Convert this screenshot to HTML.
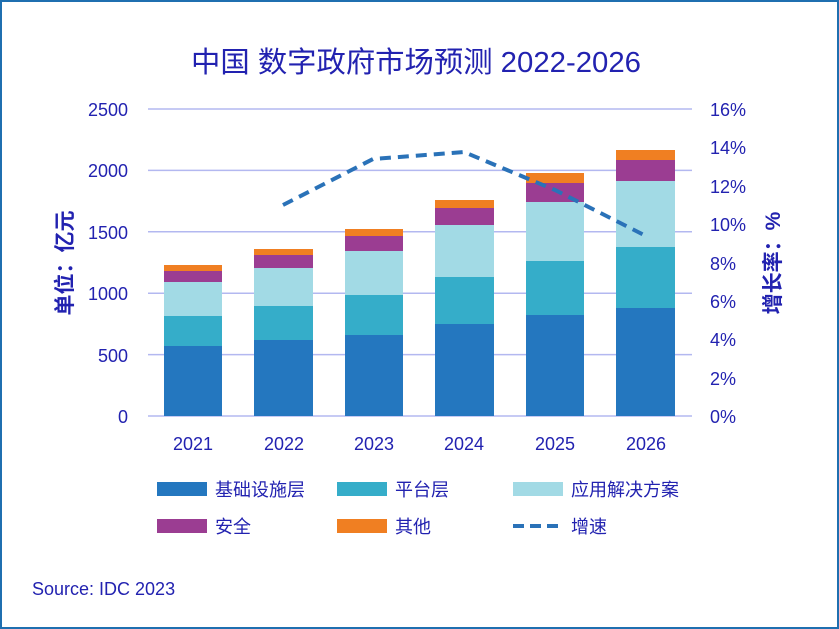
<!DOCTYPE html>
<html><head><meta charset="utf-8"><style>
html,body{margin:0;padding:0;background:#fff}
svg{display:block}
text{font-family:"Liberation Sans","Noto Sans CJK SC",sans-serif;fill:#2222b0}
</style></head><body>
<svg width="839" height="629" viewBox="0 0 839 629">
<rect x="1" y="1" width="837" height="627" fill="#fff" stroke="#1f6fb0" stroke-width="2"/>
<text x="416" y="72" font-size="29" text-anchor="middle" textLength="450" lengthAdjust="spacingAndGlyphs">中国 数字政府市场预测 2022-2026</text>
<g stroke="#b3b8f0" stroke-width="1.5">
<line x1="148" y1="109" x2="692" y2="109"/><line x1="148" y1="170.4" x2="692" y2="170.4"/>
<line x1="148" y1="231.8" x2="692" y2="231.8"/><line x1="148" y1="293.2" x2="692" y2="293.2"/>
<line x1="148" y1="354.6" x2="692" y2="354.6"/><line x1="148" y1="416" x2="692" y2="416"/>
</g>
<g font-size="18" text-anchor="end">
<text x="128" y="116">2500</text><text x="128" y="177">2000</text><text x="128" y="239">1500</text>
<text x="128" y="300">1000</text><text x="128" y="362">500</text><text x="128" y="423">0</text>
</g>
<g font-size="18" text-anchor="start">
<text x="710" y="116">16%</text><text x="710" y="154">14%</text><text x="710" y="193">12%</text>
<text x="710" y="231">10%</text><text x="710" y="270">8%</text><text x="710" y="308">6%</text>
<text x="710" y="346">4%</text><text x="710" y="385">2%</text><text x="710" y="423">0%</text>
</g>
<text transform="translate(72,263) rotate(-90)" font-size="21" font-weight="bold" text-anchor="middle">单位：亿元</text>
<text transform="translate(780,263) rotate(-90)" font-size="21" font-weight="bold" text-anchor="middle">增长率：%</text>
<g>
<g transform="translate(164,0)"><rect y="346" width="58" height="70" fill="#2477bf"/><rect y="316" width="58" height="30" fill="#35adc9"/><rect y="282" width="58" height="34" fill="#a2dae5"/><rect y="271" width="58" height="11" fill="#9b3d92"/><rect y="265" width="58" height="6" fill="#f07f22"/></g>
<g transform="translate(254,0)"><rect y="340" width="59" height="76" fill="#2477bf"/><rect y="306" width="59" height="34" fill="#35adc9"/><rect y="268" width="59" height="38" fill="#a2dae5"/><rect y="255" width="59" height="13" fill="#9b3d92"/><rect y="249" width="59" height="6" fill="#f07f22"/></g>
<g transform="translate(345,0)"><rect y="335" width="58" height="81" fill="#2477bf"/><rect y="295" width="58" height="40" fill="#35adc9"/><rect y="251" width="58" height="44" fill="#a2dae5"/><rect y="236" width="58" height="15" fill="#9b3d92"/><rect y="229" width="58" height="7" fill="#f07f22"/></g>
<g transform="translate(435,0)"><rect y="324" width="59" height="92" fill="#2477bf"/><rect y="277" width="59" height="47" fill="#35adc9"/><rect y="225" width="59" height="52" fill="#a2dae5"/><rect y="208" width="59" height="17" fill="#9b3d92"/><rect y="200" width="59" height="8" fill="#f07f22"/></g>
<g transform="translate(526,0)"><rect y="315" width="58" height="101" fill="#2477bf"/><rect y="261" width="58" height="54" fill="#35adc9"/><rect y="202" width="58" height="59" fill="#a2dae5"/><rect y="183" width="58" height="19" fill="#9b3d92"/><rect y="173" width="58" height="10" fill="#f07f22"/></g>
<g transform="translate(616,0)"><rect y="308" width="59" height="108" fill="#2477bf"/><rect y="247" width="59" height="61" fill="#35adc9"/><rect y="181" width="59" height="66" fill="#a2dae5"/><rect y="160" width="59" height="21" fill="#9b3d92"/><rect y="150" width="59" height="10" fill="#f07f22"/></g>
</g>
<polyline points="283,205 373,159 464,152 555,190 646,236" fill="none" stroke="#2a72b8" stroke-width="4" stroke-dasharray="11,7"/>
<g font-size="18" text-anchor="middle">
<text x="193" y="450">2021</text><text x="284" y="450">2022</text><text x="374" y="450">2023</text>
<text x="464" y="450">2024</text><text x="555" y="450">2025</text><text x="646" y="450">2026</text>
</g>
<g font-size="18">
<rect x="157" y="482" width="50" height="14" fill="#2477bf"/><text x="215" y="496">基础设施层</text>
<rect x="337" y="482" width="50" height="14" fill="#35adc9"/><text x="395" y="496">平台层</text>
<rect x="513" y="482" width="50" height="14" fill="#a2dae5"/><text x="571" y="496">应用解决方案</text>
<rect x="157" y="519" width="50" height="14" fill="#9b3d92"/><text x="215" y="533">安全</text>
<rect x="337" y="519" width="50" height="14" fill="#f07f22"/><text x="395" y="533">其他</text>
<line x1="513" y1="526" x2="563" y2="526" stroke="#2a72b8" stroke-width="4" stroke-dasharray="11,6"/><text x="571" y="533">增速</text>
</g>
<text x="32" y="595" font-size="18">Source: IDC 2023</text>
</svg>
</body></html>
